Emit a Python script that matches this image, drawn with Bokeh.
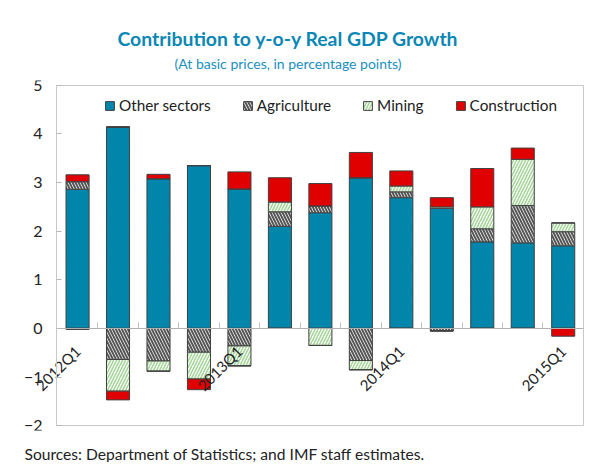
import math
from bokeh.plotting import figure
from bokeh.models import (Range1d, LinearAxis, FixedTicker, Legend, LegendItem,
                          Title, ColumnDataSource)
from bokeh.embed import file_html
from bokeh.resources import INLINE

# ---- data ----
quarters = ["2012Q1", "2012Q2", "2012Q3", "2012Q4", "2013Q1", "2013Q2", "2013Q3",
            "2013Q4", "2014Q1", "2014Q2", "2014Q3", "2014Q4", "2015Q1"]
other_sectors = [2.86, 4.14, 3.08, 3.35, 2.87, 2.10, 2.38, 3.10, 2.69, 2.47, 1.78, 1.76, 1.70]
agriculture = [0.16, -0.64, -0.67, -0.49, -0.36, 0.30, 0.14, -0.66, 0.12, -0.05, 0.27, 0.77, 0.29]
mining = [-0.02, -0.65, -0.21, -0.55, -0.41, 0.20, -0.35, -0.19, 0.12, 0.03, 0.45, 0.95, 0.18]
construction = [0.14, -0.18, 0.09, -0.22, 0.35, 0.50, 0.46, 0.52, 0.31, 0.19, 0.79, 0.23, -0.16]
y_ticks = [-2, -1, 0, 1, 2, 3, 4, 5]
shown_labels = ["2012Q1", "2013Q1", "2014Q1", "2015Q1"]

FONT = "Lato"
BLUE = "#0087AE"
GRID = "#c8c8c8"

# plot box in data units
X0, X1 = -0.52, 12.5
Y0, Y1 = -2, 5

p = figure(width=595, height=462, output_backend="svg", toolbar_location=None,
           x_range=Range1d(-1.385, 12.6), y_range=Range1d(-2.1, 5.1),
           x_axis_type=None, y_axis_type=None,
           min_border_left=21, min_border_right=8,
           min_border_top=80, min_border_bottom=32)
p.outline_line_color = None
p.xgrid.visible = False
p.ygrid.visible = False
p.background_fill_color = "white"
p.border_fill_color = "white"


def box_axis(loc, side, bounds):
    ax = LinearAxis(fixed_location=loc, bounds=bounds, ticker=FixedTicker(ticks=[]))
    ax.axis_line_color = GRID
    ax.major_tick_line_color = None
    ax.minor_tick_line_color = None
    ax.major_label_text_font_size = "0px"
    p.add_layout(ax, side)
    return ax


# y axis (left edge of the box)
ya = LinearAxis(fixed_location=X0, bounds=(Y0, Y1), ticker=FixedTicker(ticks=y_ticks))
ya.axis_line_color = GRID
ya.major_tick_in = 5
ya.major_tick_out = 0
ya.major_tick_line_color = "#b8b8b8"
ya.minor_tick_line_color = None
ya.major_label_text_font = FONT
ya.major_label_text_font_size = "16px"
ya.major_label_text_color = "#222222"
ya.major_label_standoff = 14
p.add_layout(ya, "left")

box_axis(X1, "right", (Y0, Y1))
box_axis(Y1, "above", (X0, X1))
box_axis(Y0, "below", (X0, X1))

# x axis at zero with boundary ticks (no labels)
boundary_ticks = [i + 0.5 for i in range(len(quarters) - 1)]
xa = LinearAxis(fixed_location=0, bounds=(X0, X1), ticker=FixedTicker(ticks=boundary_ticks),
                major_label_overrides={t: "" for t in boundary_ticks})
xa.axis_line_color = "#b0b0b0"
xa.major_tick_in = 6
xa.major_tick_out = 0
xa.major_tick_line_color = "#c0c0c0"
xa.minor_tick_line_color = None
xa.major_label_text_font_size = "0px"
xa.major_label_standoff = 0
p.add_layout(xa, "below")

# category labels (only Q1) on an axis at zero
lab_x = [quarters.index(q) for q in shown_labels]
xl = LinearAxis(fixed_location=0, ticker=FixedTicker(ticks=lab_x),
                major_label_overrides={i: q for i, q in zip(lab_x, shown_labels)})
xl.axis_line_color = None
xl.major_tick_line_color = None
xl.minor_tick_line_color = None
xl.major_label_orientation = math.pi / 4
xl.major_label_standoff = 14
xl.major_label_text_font = FONT
xl.major_label_text_font_size = "15px"
xl.major_label_text_color = "#222222"
p.add_layout(xl, "below")

# stacked bars
xs = list(range(len(quarters)))
series = [
    ("Other sectors", other_sectors, dict(fill_color=BLUE, hatch_pattern="/", hatch_color="#0a7898",
                                          hatch_alpha=0.35, hatch_scale=5, hatch_weight=1)),
    ("Agriculture", agriculture, dict(fill_color="white", hatch_pattern="\\", hatch_color="#555555",
                                      hatch_scale=6, hatch_weight=2)),
    ("Mining", mining, dict(fill_color="white", hatch_pattern="/", hatch_color="#a6d59a",
                            hatch_scale=6, hatch_weight=1.6)),
    ("Construction", construction, dict(fill_color="#E00000")),
]
pos_base = [0.0] * len(xs)
neg_base = [0.0] * len(xs)
items = []
for name, vals, style in series:
    pb, pt, nb, nt = [], [], [], []
    for i, v in enumerate(vals):
        pv = max(v, 0.0)
        nv = min(v, 0.0)
        pb.append(pos_base[i]); pt.append(pos_base[i] + pv); pos_base[i] += pv
        nt.append(neg_base[i]); nb.append(neg_base[i] + nv); neg_base[i] += nv
    src_p = ColumnDataSource(dict(x=xs, bottom=pb, top=pt))
    src_n = ColumnDataSource(dict(x=xs, bottom=nb, top=nt))
    r1 = p.vbar(x="x", bottom="bottom", top="top", width=0.57, source=src_p,
                line_color="#404040", line_width=1, **style)
    p.vbar(x="x", bottom="bottom", top="top", width=0.57, source=src_n,
           line_color="#404040", line_width=1, **style)
    items.append(LegendItem(label=name, renderers=[r1]))

legend = Legend(items=items, orientation="horizontal", location=(83, 316),
                glyph_width=11, glyph_height=11, label_standoff=4, spacing=31,
                label_text_font=FONT, label_text_font_size="15.3px", label_text_color="#222222",
                border_line_color=None, background_fill_alpha=0, padding=2, margin=0,
                label_height=14)
p.add_layout(legend, "center")

# titles (spacer and subtitle first: closest to the frame)
p.add_layout(Title(text=" ", align="left", offset=0, text_font=FONT, text_font_size="3px",
                   standoff=0), "above")
p.add_layout(Title(text="(At basic prices, in percentage points)", align="left", offset=153,
                   text_font=FONT, text_font_size="14px", text_font_style="normal",
                   text_color="#1A8FC0", standoff=6), "above")
p.add_layout(Title(text="Contribution to y-o-y Real GDP Growth", align="left", offset=96,
                   text_font=FONT, text_font_size="19.4px", text_font_style="bold",
                   text_color="#0A87B5", standoff=0), "above")
p.add_layout(Title(text=" ", align="left", offset=0, text_font=FONT, text_font_size="8px",
                   standoff=0), "below")
p.add_layout(Title(text="Sources: Department of Statistics; and IMF staff estimates.",
                   align="left", offset=3, text_font=FONT, text_font_size="15.6px",
                   text_font_style="normal", text_color="#222222", standoff=0), "below")

open("out.html", "w").write(file_html(p, INLINE))
